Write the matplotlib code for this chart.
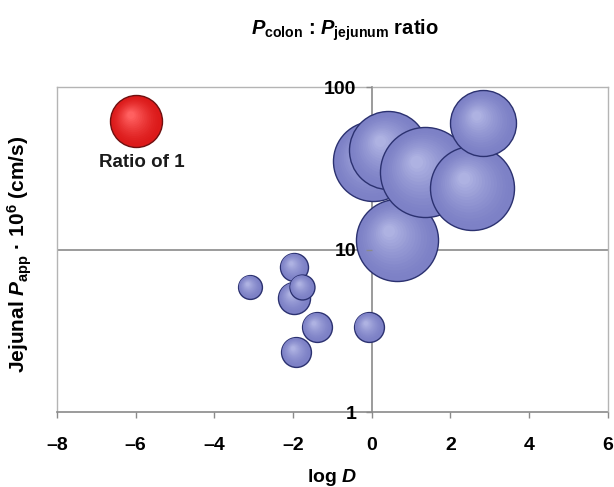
import matplotlib
matplotlib.use("Agg")
import matplotlib.pyplot as plt
import numpy as np
from matplotlib.colors import to_rgb
from matplotlib.transforms import ScaledTranslation
from matplotlib.ticker import NullLocator

# ---------- data ----------
log_d = [-3.1, -1.98, -1.40, -1.93, -0.08, -1.98, -1.78,
         0.63, 0.03, 0.40, 2.23, 1.35, 2.54, 2.82]
p_app = [5.9, 7.85, 3.35, 2.35, 3.35, 5.06, 5.9,
         11.4, 35.0, 41.0, 31.0, 30.0, 24.0, 60.0]
ratio = [0.21, 0.29, 0.33, 0.33, 0.33, 0.38, 0.23,
         2.49, 2.37, 2.25, 1.61, 3.0, 2.61, 1.61]
ref_x, ref_y, ref_ratio = [-6.0], [62.0], [1.0]
x_ticks = [-8, -6, -4, -2, 0, 2, 4, 6]
x_labels = ["\u20138", "\u20136", "\u20134", "\u20132", "0", "2", "4", "6"]
y_ticks = [1, 10, 100]
y_labels = ["1", "10", "100"]

FONT = "Liberation Sans"
plt.rcParams["font.family"] = [FONT, "DejaVu Sans"]
plt.rcParams["mathtext.fontset"] = "custom"
plt.rcParams["mathtext.rm"] = FONT + ":bold"
plt.rcParams["mathtext.it"] = FONT + ":italic:bold"
plt.rcParams["mathtext.bf"] = FONT + ":bold"

BLUE = "#7d81c6"; BLUE_HI = "#aeb2e2"; BLUE_EDGE = "#2b3170"
RED = "#dc1a1a"; RED_HI = "#ff6060"; RED_EDGE = "#6e0f0f"
LINE = "#8a8a8a"; FRAME = "#b4b4b4"

fig = plt.figure(figsize=(6.14, 4.87), dpi=100)
ax = fig.add_axes([0.0928, 0.154, 0.8972, 0.667])
ax.set_xlim(-8, 6)
ax.set_yscale("log")
ax.set_ylim(1, 100)
ax.set_axisbelow(False)

S_PER_RATIO = 1402.0   # marker area (pt^2) for ratio 1


def bubble(x, y, r, base, hi, edge):
    s = S_PER_RATIO * r
    rad = np.sqrt(s) / 2.0 / 72.0   # radius in inches
    ax.scatter([x], [y], s=s, color=base, edgecolors=edge, linewidths=1.0, zorder=2)
    n = 14
    c0, c1 = np.array(to_rgb(base)), np.array(to_rgb(hi))
    for i in range(1, n + 1):
        f = i / n
        frac = 1 - 0.85 * f
        off = ScaledTranslation(-0.18 * rad * f, 0.22 * rad * f, fig.dpi_scale_trans)
        col = c0 + (c1 - c0) * f ** 1.4
        ax.scatter([x], [y], s=s * frac ** 2 * 0.92, color=col, edgecolors="none",
                   transform=ax.transData + off, zorder=2)


for x, y, r in zip(log_d, p_app, ratio):
    bubble(x, y, r, BLUE, BLUE_HI, BLUE_EDGE)
for x, y, r in zip(ref_x, ref_y, ref_ratio):
    bubble(x, y, r, RED, RED_HI, RED_EDGE)

ax.text(-5.85, 34.5, "Ratio of 1", ha="center", va="center", fontsize=13.5,
        fontweight="bold", color="#1a1a1a", zorder=3)

# ---------- axes styling ----------
ax.axhline(10, color=LINE, lw=1.2, zorder=1)
ax.spines["left"].set_position(("data", 0))
for k in ["left", "bottom"]:
    ax.spines[k].set_color(LINE)
    ax.spines[k].set_linewidth(1.2)
    ax.spines[k].set_zorder(1)
for k in ["top", "right"]:
    ax.spines[k].set_color(FRAME)
    ax.spines[k].set_linewidth(1.0)
ax.plot([0, 0], [0, 1], transform=ax.transAxes, color=FRAME, lw=1.0,
        clip_on=False, zorder=1)

ax.set_xticks(x_ticks)
ax.set_xticklabels(x_labels, fontsize=14, fontweight="bold")
ax.set_yticks(y_ticks)
ax.set_yticklabels(y_labels, fontsize=14, fontweight="bold")
ax.yaxis.set_minor_locator(NullLocator())
ax.tick_params(axis="both", direction="out", length=4, width=1.0, color=LINE)
ax.tick_params(axis="x", pad=14)
ax.tick_params(axis="y", pad=7)

fig.text(0.562, 0.938, r"$P_{\mathrm{colon}}$ : $P_{\mathrm{jejunum}}$ ratio",
         ha="center", va="center", fontsize=14.5, fontweight="bold")
fig.text(0.541, 0.02, r"log $D$", ha="center", va="center", fontsize=14,
         fontweight="bold")
fig.text(0.033, 0.478, r"Jejunal $P_{\mathrm{app}}$ · $10^6$ (cm/s)", ha="center",
         va="center", rotation=90, fontsize=15, fontweight="bold")

fig.savefig("out.png", dpi=100, facecolor="white")
